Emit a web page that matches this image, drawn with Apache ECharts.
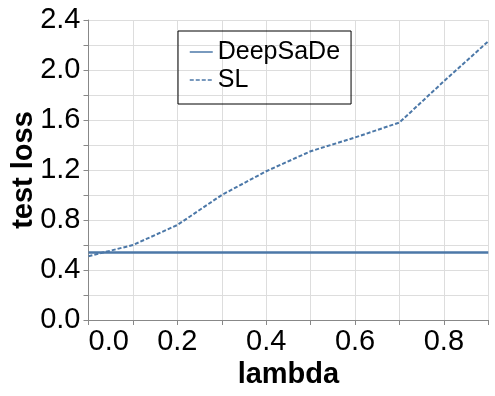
<!DOCTYPE html>
<html>
<head>
<meta charset="utf-8">
<script src="https://cdn.jsdelivr.net/npm/echarts@6/dist/echarts.min.js"></script>
<style>
  html, body { margin: 0; padding: 0; background: #fff; }
  #main { width: 495px; height: 396px; }
</style>
</head>
<body>
<div id="main"></div>
<script>
// lambda values
const lambdas = [0.0, 0.1, 0.2, 0.3, 0.4, 0.5, 0.6, 0.7, 0.8, 0.9]
// test loss per method
const deepSaDe = [0.54, 0.54, 0.54, 0.54, 0.54, 0.54, 0.54, 0.54, 0.54, 0.54]
const sl = [0.51, 0.60, 0.76, 1.00, 1.19, 1.35, 1.46, 1.58, 1.91, 2.23]

const font = "'Liberation Sans', Arial, Helvetica, sans-serif"
const blue = '#4c78a8'

const chart = echarts.init(document.getElementById('main'))

//把x和y拼成点
const toPoints = function(ys) {
    return lambdas.map((x, i) => [x, ys[i]])
}

const option = {
    animation: false,
    grid: {
        left: 88.5,
        right: 6.7,
        top: 20,
        bottom: 76,
        containLabel: false,
        outerBoundsMode: 'none'
    },
    legend: {
        orient: 'vertical',
        left: 178,
        top: 31,
        padding: [7, 11, 10, 11],
        borderColor: '#000',
        borderWidth: 1,
        itemGap: 0,
        itemWidth: 23,
        itemHeight: 14,
        itemStyle: { color: 'transparent', borderWidth: 0, opacity: 0 },
        lineStyle: { width: 1.5 },
        textStyle: {
            fontFamily: font,
            fontSize: 25,
            lineHeight: 28,
            color: '#000'
        },
        data: ['DeepSaDe', 'SL']
    },
    xAxis: {
        type: 'value',
        min: 0,
        max: 0.9,
        interval: 0.1,
        name: 'lambda',
        nameLocation: 'middle',
        nameGap: 40,
        nameMoveOverlap: false,
        nameTextStyle: {
            fontFamily: font,
            fontSize: 29,
            fontWeight: 'bold',
            color: '#000'
        },
        axisLine: { lineStyle: { color: '#888', width: 1 } },
        axisTick: { show: true, length: 5, lineStyle: { color: '#888' } },
        splitLine: { show: true, lineStyle: { color: '#ddd', width: 1 } },
        axisLabel: {
            fontFamily: font,
            fontSize: 29,
            color: '#000',
            margin: 7,
            alignMinLabel: 'left',
            showMaxLabel: true,
            formatter: function(v) {
                const k = Math.round(v * 10)
                return k % 2 === 0 ? (k / 10).toFixed(1) : ''
            }
        }
    },
    yAxis: {
        type: 'value',
        min: 0,
        max: 2.4,
        interval: 0.2,
        name: 'test loss',
        nameLocation: 'middle',
        nameGap: 50,
        nameMoveOverlap: false,
        nameTextStyle: {
            fontFamily: font,
            fontSize: 29,
            fontWeight: 'bold',
            color: '#000'
        },
        axisLine: { show: true, lineStyle: { color: '#888', width: 1 } },
        axisTick: { show: true, length: 5, lineStyle: { color: '#888' } },
        splitLine: { show: true, lineStyle: { color: '#ddd', width: 1 } },
        axisLabel: {
            fontFamily: font,
            fontSize: 29,
            color: '#000',
            margin: 8,
            formatter: function(v) {
                const k = Math.round(v * 10)
                return k % 4 === 0 ? (k / 10).toFixed(1) : ''
            }
        }
    },
    series: [
        {
            name: 'DeepSaDe',
            type: 'line',
            data: toPoints(deepSaDe),
            symbol: 'none',
            color: blue,
            lineStyle: { color: blue, width: 2.5 }
        },
        {
            name: 'SL',
            type: 'line',
            data: toPoints(sl),
            symbol: 'none',
            color: blue,
            lineStyle: { color: blue, width: 2, type: [4, 2] }
        }
    ]
}

chart.setOption(option)
</script>
</body>
</html>
